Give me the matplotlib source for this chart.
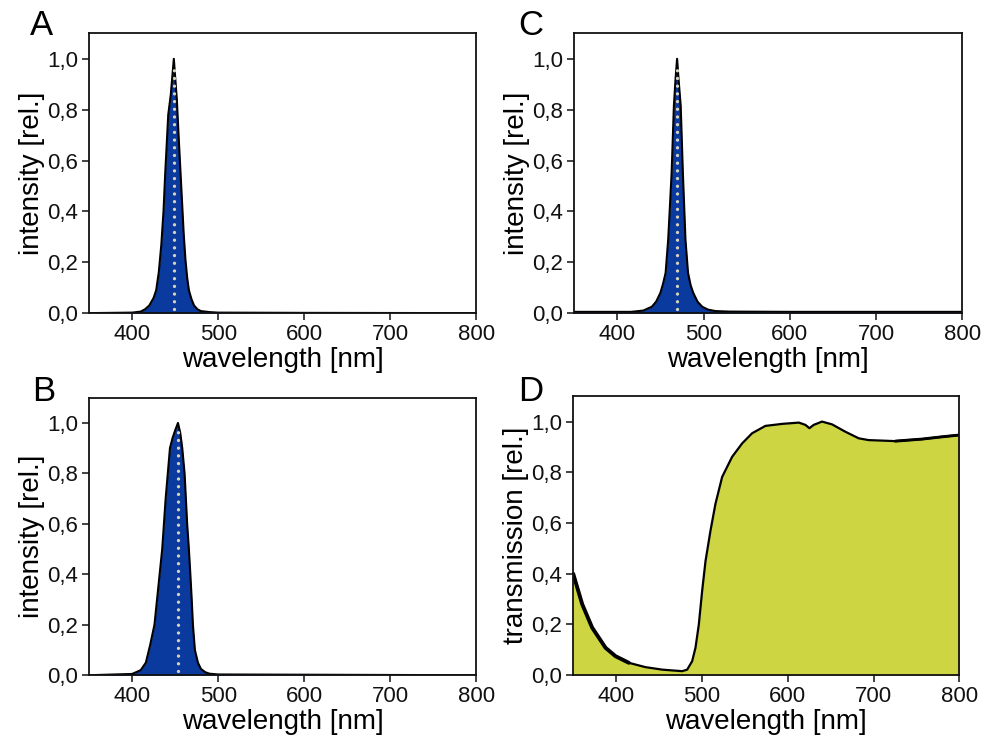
import numpy as np
import matplotlib
matplotlib.use('Agg')
import matplotlib.pyplot as plt

plt.rcParams['font.family'] = ['Liberation Sans', 'DejaVu Sans']

# emission spectra (wavelength nm, relative intensity)
wl_a = [350, 400, 410, 415, 420, 425, 428, 431, 434, 436.5, 438.5, 440.5, 442, 443.5, 445, 447, 448.5,
        450, 452, 454, 456, 458, 460, 462, 464, 466, 469, 472, 476, 480, 490, 500, 600, 800]
int_a = [0.0, 0.002, 0.006, 0.015, 0.03, 0.06, 0.09, 0.16, 0.27, 0.40, 0.55, 0.68, 0.78, 0.82, 0.86, 0.94, 1.0,
         0.93, 0.84, 0.70, 0.57, 0.44, 0.31, 0.21, 0.14, 0.09, 0.055, 0.03, 0.015, 0.008, 0.004, 0.002, 0.001, 0.0]
peak_a = 449

wl_b = [350, 400, 410, 416, 421, 426, 429, 432, 435, 437, 439, 441.5, 444, 447, 450, 453.3,
        456, 458.3, 461, 464, 466, 467.7, 469.3, 470.7, 473, 476.5, 480, 485, 490, 500, 600, 800]
int_b = [0.0, 0.005, 0.02, 0.05, 0.12, 0.2, 0.3, 0.4, 0.5, 0.6, 0.7, 0.8, 0.9, 0.94, 0.97, 1.0,
         0.96, 0.9, 0.8, 0.6, 0.5, 0.4, 0.3, 0.2, 0.1, 0.05, 0.025, 0.012, 0.006, 0.003, 0.002, 0.0]
peak_b = 453.5

wl_c = [350, 416, 430, 440, 445, 450, 453, 456, 459, 461, 463, 465.6, 467.5, 469.3,
        471, 473.5, 476, 479, 482, 485, 488, 493, 498.5, 505, 514, 530, 600, 800]
int_c = [0.005, 0.005, 0.01, 0.025, 0.045, 0.08, 0.115, 0.158, 0.29, 0.42, 0.553, 0.815, 0.92, 1.0,
         0.92, 0.815, 0.553, 0.29, 0.158, 0.11, 0.08, 0.045, 0.025, 0.014, 0.008, 0.006, 0.005, 0.005]
peak_c = 469.5

# filter transmission (panel D)
wl_d = [350, 354.7, 360.5, 372, 387.7, 399.3, 414.8, 434, 453.7, 477, 482.8, 488.6, 492.5, 496.4, 500.3,
        504.2, 510, 515.8, 523.6, 535.2, 546.9, 558.5, 574, 593.5, 613, 620.6, 625.3, 630.3, 640, 651.7,
        667.2, 682.8, 694.4, 725.5, 756.6, 779.9, 800]
tr_d = [0.40, 0.346, 0.28, 0.188, 0.108, 0.075, 0.049, 0.032, 0.022, 0.016, 0.022, 0.055, 0.108, 0.20, 0.333,
        0.45, 0.57, 0.676, 0.782, 0.861, 0.914, 0.954, 0.983, 0.991, 0.996, 0.987, 0.974, 0.987, 1.0, 0.989,
        0.960, 0.934, 0.927, 0.923, 0.931, 0.940, 0.947]

xticks = [400, 500, 600, 700, 800]
yticks = [0.0, 0.2, 0.4, 0.6, 0.8, 1.0]
ytick_labels = ['0,0', '0,2', '0,4', '0,6', '0,8', '1,0']

blue = '#0a3a9e'
yellow = '#cdd542'

fig = plt.figure(figsize=(9.9, 7.42), dpi=100)
axA = fig.add_axes([0.090, 0.578, 0.391, 0.377])
axC = fig.add_axes([0.580, 0.578, 0.392, 0.377])
axB = fig.add_axes([0.090, 0.090, 0.391, 0.374])
axD = fig.add_axes([0.579, 0.090, 0.390, 0.376])


def style(ax, ylabel):
    ax.set_xlim(350, 800)
    ax.set_ylim(0, 1.1)
    ax.set_xticks(xticks)
    ax.set_yticks(yticks)
    ax.set_yticklabels(ytick_labels)
    ax.tick_params(direction='out', length=5, width=1.1, labelsize=16, pad=3, colors='#111111')
    for s in ax.spines.values():
        s.set_linewidth(1.3)
        s.set_color('#111111')
    ax.set_xlabel('wavelength [nm]', fontsize=20, labelpad=1)
    ax.set_ylabel(ylabel, fontsize=20, labelpad=1.5)


def spectrum(ax, wl, vals, peak):
    ax.fill_between(wl, vals, 0, color=blue, linewidth=0)
    ax.plot(wl, vals, color='black', lw=1.5, solid_joinstyle='round')
    ax.plot([peak, peak], [0.015, 0.97], color='#d9d3bd', lw=2.4,
            linestyle=(0, (0.01, 2.3)), dash_capstyle='round')
    style(ax, 'intensity [rel.]')


spectrum(axA, wl_a, int_a, peak_a)
spectrum(axB, wl_b, int_b, peak_b)
spectrum(axC, wl_c, int_c, peak_c)

wl_d = np.array(wl_d)
tr_d = np.array(tr_d)
axD.fill_between(wl_d, tr_d, 0, color=yellow, linewidth=0)
axD.plot(wl_d, tr_d, color='black', lw=1.6, solid_joinstyle='round')
# noisier parts of the measured curve look thicker
noisy = wl_d <= 415
axD.plot(wl_d[noisy], tr_d[noisy], color='black', lw=2.8,
         solid_capstyle='round', solid_joinstyle='round')
noisy_r = wl_d >= 725
axD.plot(wl_d[noisy_r], tr_d[noisy_r], color='black', lw=2.1,
         solid_capstyle='round', solid_joinstyle='round')
style(axD, 'transmission [rel.]')

for lbl, x, y in [('A', 0.030, 0.988), ('C', 0.523, 0.988), ('B', 0.032, 0.494), ('D', 0.523, 0.494)]:
    fig.text(x, y, lbl, fontsize=25, va='top', ha='left')

fig.savefig('out.png', dpi=100)
